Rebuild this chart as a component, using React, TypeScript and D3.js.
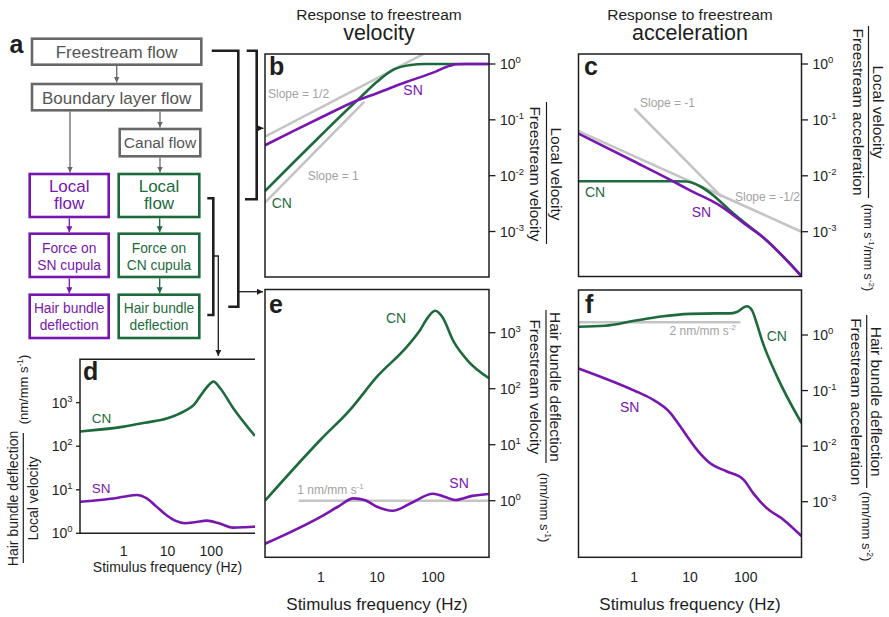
import * as d3 from "d3";
import React from "react";

type Pt = [number, number];

// values: [frequency (Hz), response]
// b: local velocity / freestream velocity
const velSN: Pt[] = [[0.1, 0.035], [0.3, 0.061], [1, 0.11], [4.3, 0.22], [10, 0.3], [34, 0.48], [100, 0.7], [200, 0.93], [265, 0.99], [400, 1], [1000, 1]];
const velCN: Pt[] = [[0.1, 0.0053], [0.3, 0.016], [1, 0.053], [3, 0.155], [5, 0.25], [10, 0.48], [20, 0.8], [40, 0.96], [70, 1], [1000, 1]];
const velSlopeHalf: Pt[] = [[0.1, 0.05], [67, 1.5]];
const velSlopeOne: Pt[] = [[0.1, 0.0033], [5.9, 0.21]];

// c: local velocity / freestream acceleration
const accSN: Pt[] = [[0.1, 0.057], [1, 0.018], [4.7, 0.0082], [10, 0.0055], [35, 0.0029], [100, 0.00134], [206, 0.00079], [1000, 0.00016]];
const accCN: Pt[] = [[0.1, 0.008], [1, 0.008], [5, 0.008], [8.7, 0.0079], [15, 0.0065], [26, 0.0045], [52, 0.0024], [100, 0.0014], [206, 0.00079], [1000, 0.00016]];
const accSlopeMinusOne: Pt[] = [[1, 0.16], [37, 0.0042]];
const accSlopeMinusHalf: Pt[] = [[0.1, 0.063], [1000, 0.001]];

// d: hair bundle deflection / local velocity
const hbLocSN: Pt[] = [[0.1, 5.3], [0.5, 6.2], [1, 6.9], [2, 7.6], [3.3, 6.4], [5.6, 4.1], [9.5, 2.6], [15, 1.95], [25, 1.7], [45, 1.82], [79, 1.95], [150, 1.7], [316, 1.35], [600, 1.38], [1000, 1.42]];
const hbLocCN: Pt[] = [[0.1, 218], [1, 282], [3, 345], [10, 440], [25, 650], [40, 890], [55, 1380], [85, 2450], [112, 3080], [160, 2150], [319, 748], [1000, 172]];

// e: hair bundle deflection / freestream velocity
const hbVelSN: Pt[] = [[0.1, 0.17], [1, 0.52], [2, 0.78], [3.8, 1.1], [6, 1.03], [10, 0.78], [19, 0.66], [40, 0.9], [100, 1.33], [160, 1.18], [250, 1.03], [500, 1.22], [1000, 1.32]];
const hbVelCN: Pt[] = [[0.1, 1.0], [1, 12.5], [3.3, 42], [10, 164], [34, 560], [59, 1120], [83, 1940], [110, 2460], [145, 1940], [234, 690], [407, 325], [1000, 154]];
const hbVelRef: Pt[] = [[0.4, 1], [1000, 1]];

// f: hair bundle deflection / freestream acceleration
const hbAccSN: Pt[] = [[0.1, 0.25], [1, 0.1], [2, 0.072], [4.5, 0.039], [6.8, 0.022], [13.5, 0.0085], [23, 0.0049], [46, 0.0035], [91, 0.0025], [138, 0.0014], [240, 0.00076], [480, 0.00047], [1000, 0.00024]];
const hbAccCN: Pt[] = [[0.1, 1.41], [0.3, 1.47], [1, 1.8], [3, 2.15], [10, 2.4], [30, 2.45], [52, 2.45], [69, 2.6], [105, 3.3], [129, 2.8], [158, 1.6], [195, 0.81], [363, 0.18], [1000, 0.026]];
const hbAccRef: Pt[] = [[0.1, 1.7], [80, 1.7]];

const freqTicks = [1, 10, 100];
const ratioExps = [0, -1, -2, -3];
const gainExps = [3, 2, 1, 0];

const PURPLE = "#7816b0";
const GREEN = "#1d6b3c";
const REF = "#c4c4c4";
const NOTE = "#a2a2a2";
const BOXGRAY = "#686868";
const INK = "#1e1e1e";
const FONT = "'Liberation Sans', Arial, Helvetica, sans-serif";

const Pow = ({ e, size = 9.5 }: { e: number; size?: number }) => (
  <>
    10<tspan dy={-6} fontSize={size}>{e}</tspan>
  </>
);

type Series = { data: Pt[]; color: string };

function Plot(props: {
  id: string;
  xr: [number, number];
  yd: [number, number];
  yr: [number, number];
  top: number;
  bottom: number;
  exps: number[];
  side: "left" | "right";
  lines: Series[];
  xLabelY?: number;
  tickFont: number;
  open?: boolean;
}) {
  const x = d3.scaleLog().domain([0.1, 1000]).range(props.xr);
  const y = d3.scaleLog().domain(props.yd).range(props.yr);
  const line = d3.line<Pt>().x(d => x(d[0])).y(d => y(d[1])).curve(d3.curveMonotoneX);
  const [x0, x1] = props.xr;
  const { top, bottom } = props;
  return (
    <g>
      <clipPath id={props.id}>
        <rect x={x0} y={top} width={x1 - x0} height={bottom - top} />
      </clipPath>
      <g clipPath={`url(#${props.id})`} fill="none" strokeWidth={2.6} strokeLinejoin="round">
        {props.lines.map((s, i) => (
          <path key={i} d={line(s.data) || ""} stroke={s.color} />
        ))}
      </g>
      {props.open ? (
        <path d={`M${x1},${top}H${x0}V${bottom}H${x1}`} fill="none" stroke={INK} strokeWidth={1.5} />
      ) : (
        <rect x={x0} y={top} width={x1 - x0} height={bottom - top} fill="none" stroke={INK} strokeWidth={1.5} />
      )}
      {props.exps.map(e => {
        const ty = y(Math.pow(10, e));
        return props.side === "right" ? (
          <g key={e}>
            <line x1={x1} x2={x1 + 6.5} y1={ty} y2={ty} stroke={INK} strokeWidth={1.3} />
            <text x={x1 + 11} y={ty + 5} fontSize={props.tickFont} fill={INK}><Pow e={e} /></text>
          </g>
        ) : (
          <g key={e}>
            <line x1={x0 - 4} x2={x0} y1={ty} y2={ty} stroke={INK} strokeWidth={1.3} />
            <text x={x0 - 7.5} y={ty + 5} fontSize={props.tickFont} fill={INK} textAnchor="end"><Pow e={e} /></text>
          </g>
        );
      })}
      {props.xLabelY !== undefined &&
        freqTicks.map(f => (
          <text key={f} x={x(f)} y={props.xLabelY} fontSize={props.tickFont} fill={INK} textAnchor="middle">{f}</text>
        ))}
    </g>
  );
}

// rotated fraction label: numerator / denominator with a bar between
function Fraction(props: { cy: number; num: string; den: string; y0: number; y1: number; lineX: number; numX: number; denX: number; size: number; rot: number }) {
  const { cy, size, rot } = props;
  const dy = size * 0.35;
  return (
    <g fill={INK} fontSize={size}>
      <text transform={`translate(${props.numX},${cy}) rotate(${rot})`} y={dy} textAnchor="middle">{props.num}</text>
      <text transform={`translate(${props.denX},${cy}) rotate(${rot})`} y={dy} textAnchor="middle">{props.den}</text>
      <line x1={props.lineX} x2={props.lineX} y1={props.y0} y2={props.y1} stroke={INK} strokeWidth={1.2} />
    </g>
  );
}

function Units(props: { x: number; y: number; pre: string; mid?: string; e1: number; e2?: number; size: number; rot: number }) {
  const { size } = props;
  return (
    <text transform={`translate(${props.x},${props.y}) rotate(${props.rot})`} y={size * 0.35} textAnchor="middle" fontSize={size} fill={INK}>
      {props.pre}
      <tspan dy={-5} fontSize={size * 0.65}>{props.e1}</tspan>
      {props.mid !== undefined && <tspan dy={5}>{props.mid}</tspan>}
      {props.e2 !== undefined && <tspan dy={-5} fontSize={size * 0.65}>{props.e2}</tspan>}
      <tspan dy={5}>)</tspan>
    </text>
  );
}

type Box = { x: number; y: number; w: number; h: number; color: string; lines: string[]; size: number; base: number[] };

const boxes: Box[] = [
  { x: 32, y: 38.7, w: 169.3, h: 26, color: BOXGRAY, lines: ["Freestream flow"], size: 17, base: [58] },
  { x: 32, y: 84, w: 169.3, h: 26.3, color: BOXGRAY, lines: ["Boundary layer flow"], size: 17, base: [103.5] },
  { x: 119.7, y: 129, w: 80.6, h: 27.3, color: BOXGRAY, lines: ["Canal flow"], size: 15.5, base: [148] },
  { x: 29.7, y: 174, w: 79, h: 43, color: PURPLE, lines: ["Local", "flow"], size: 17, base: [191.5, 209] },
  { x: 118.7, y: 174, w: 80.6, h: 43, color: GREEN, lines: ["Local", "flow"], size: 17, base: [191.5, 209] },
  { x: 29.7, y: 233.7, w: 79, h: 43.3, color: PURPLE, lines: ["Force on", "SN cupula"], size: 13.8, base: [252.5, 270] },
  { x: 118.7, y: 233.7, w: 80.6, h: 43.3, color: GREEN, lines: ["Force on", "CN cupula"], size: 13.8, base: [252.5, 270] },
  { x: 29.7, y: 294.7, w: 79, h: 43.3, color: PURPLE, lines: ["Hair bundle", "deflection"], size: 13.8, base: [313, 330] },
  { x: 118.7, y: 294.7, w: 80.6, h: 43.3, color: GREEN, lines: ["Hair bundle", "deflection"], size: 13.8, base: [313, 330] },
];

const arrows: { x1: number; y1: number; x2: number; y2: number; c: string; m: string }[] = [
  { x1: 116.7, y1: 66, x2: 116.7, y2: 82.5, c: BOXGRAY, m: "ag" },
  { x1: 70, y1: 111.5, x2: 70, y2: 172.5, c: BOXGRAY, m: "ag" },
  { x1: 160, y1: 111.5, x2: 160, y2: 127.5, c: BOXGRAY, m: "ag" },
  { x1: 160, y1: 157.5, x2: 160, y2: 172.5, c: BOXGRAY, m: "ag" },
  { x1: 69.3, y1: 218.3, x2: 69.3, y2: 232.3, c: PURPLE, m: "ap" },
  { x1: 69.3, y1: 278.3, x2: 69.3, y2: 293.3, c: PURPLE, m: "ap" },
  { x1: 159.7, y1: 218.3, x2: 159.7, y2: 232.3, c: GREEN, m: "an" },
  { x1: 159.7, y1: 278.3, x2: 159.7, y2: 293.3, c: GREEN, m: "an" },
];

function Flowchart() {
  const marker = (id: string, color: string) => (
    <marker id={id} markerUnits="userSpaceOnUse" markerWidth={7} markerHeight={7} refX={6} refY={3} orient="auto">
      <path d="M0,0L6,3L0,6z" fill={color} />
    </marker>
  );
  return (
    <g>
      <defs>
        {marker("ag", BOXGRAY)}
        {marker("ap", PURPLE)}
        {marker("an", GREEN)}
        {marker("ak", INK)}
      </defs>
      {boxes.map((b, i) => (
        <g key={i}>
          <rect x={b.x} y={b.y} width={b.w} height={b.h} fill="white" stroke={b.color} strokeWidth={2.6} />
          {b.lines.map((t, j) => (
            <text key={j} x={b.x + b.w / 2} y={b.base[j]} textAnchor="middle" fontSize={b.size} fill={b.color === BOXGRAY ? "#555" : b.color}>{t}</text>
          ))}
        </g>
      ))}
      {arrows.map((a, i) => (
        <line key={i} x1={a.x1} y1={a.y1} x2={a.x2} y2={a.y2} stroke={a.c} strokeWidth={1.3} markerEnd={`url(#${a.m})`} />
      ))}
      <g fill="none" stroke={INK} strokeWidth={2.6}>
        <path d="M211.7,50.7H238.3V306.7H228.3" />
        <path d="M246.7,50.7H256.7V199.3H245" />
        <path d="M207.3,198.3H213.3V315H207.3" />
      </g>
      <g stroke={INK} strokeWidth={1.3} fill="none">
        <line x1={238.3} y1={291.7} x2={263} y2={291.7} markerEnd="url(#ak)" />
        <line x1={256.7} y1={128.3} x2={263.5} y2={128.3} markerEnd="url(#ak)" />
        <path d="M213.3,256H218.3V356" markerEnd="url(#ak)" />
      </g>
      <text x={9.5} y={53.3} fontSize={25} fontWeight="bold" fill={INK}>a</text>
    </g>
  );
}

export default function App() {
  const bx: [number, number] = [265, 489];
  const cx: [number, number] = [578.5, 801.5];
  return (
    <svg width={889} height={617} viewBox="0 0 889 617" fontFamily={FONT} style={{ position: "absolute", left: 0, top: 0, display: "block" }}>
      <rect width={889} height={617} fill="white" />
      <Flowchart />

      {/* titles */}
      <g fill={INK} textAnchor="middle">
        <text x={379} y={19.5} fontSize={15.5}>Response to freestream</text>
        <text x={379} y={39.5} fontSize={21.5}>velocity</text>
        <text x={690} y={19.5} fontSize={15.5}>Response to freestream</text>
        <text x={690} y={39.5} fontSize={21.5}>acceleration</text>
      </g>

      {/* b */}
      <Plot id="cb" xr={bx} yd={[1e-3, 1]} yr={[231.5, 64]} top={54} bottom={277} exps={ratioExps} side="right" tickFont={14}
        lines={[{ data: velSlopeHalf, color: REF }, { data: velSlopeOne, color: REF }, { data: velCN, color: GREEN }, { data: velSN, color: PURPLE }]} />
      <g fontSize={12}>
        <text x={268} y={98} fill={NOTE}>Slope = 1/2</text>
        <text x={307.7} y={180} fill={NOTE}>Slope = 1</text>
      </g>
      <text x={403.3} y={95} fontSize={14} fill={PURPLE}>SN</text>
      <text x={271.7} y={207.7} fontSize={14} fill={GREEN}>CN</text>
      <text x={269} y={75} fontSize={25} fontWeight="bold" fill={INK}>b</text>
      <Fraction cy={174} num="Local velocity" den="Freestream velocity" numX={556.5} denX={535.5} lineX={546.5} y0={102} y1={244} size={15.5} rot={90} />

      {/* c */}
      <Plot id="cc" xr={cx} yd={[1e-3, 1]} yr={[231.7, 64]} top={54} bottom={276.5} exps={ratioExps} side="right" tickFont={14}
        lines={[{ data: accSlopeMinusOne, color: REF }, { data: accSlopeMinusHalf, color: REF }, { data: accCN, color: GREEN }, { data: accSN, color: PURPLE }]} />
      <g fontSize={12}>
        <text x={640} y={107.3} fill={NOTE}>Slope = -1</text>
        <text x={735} y={200.7} fill={NOTE}>Slope = -1/2</text>
      </g>
      <text x={585} y={196.7} fontSize={14} fill={GREEN}>CN</text>
      <text x={691.7} y={216.7} fontSize={14} fill={PURPLE}>SN</text>
      <text x={584} y={75} fontSize={25} fontWeight="bold" fill={INK}>c</text>
      <Fraction cy={112} num="Local velocity" den="Freestream acceleration" numX={878.3} denX={858.3} lineX={868.5} y0={26} y1={198} size={15.5} rot={90} />
      <Units x={868} y={247.5} pre="(mm s" e1={-1} mid="/mm s" e2={-2} size={12.5} rot={90} />

      {/* d */}
      <Plot id="cd" xr={[80, 255]} yd={[1, 1000]} yr={[533.3, 402.7]} top={359.3} bottom={533.3} exps={gainExps} side="left" tickFont={14} open xLabelY={555.5}
        lines={[{ data: hbLocCN, color: GREEN }, { data: hbLocSN, color: PURPLE }]} />
      <text x={91.7} y={422.7} fontSize={13.5} fill={GREEN}>CN</text>
      <text x={91.7} y={492.7} fontSize={13.5} fill={PURPLE}>SN</text>
      <text x={83} y={380} fontSize={25} fontWeight="bold" fill={INK}>d</text>
      <text x={167.5} y={572} fontSize={14} fill={INK} textAnchor="middle">Stimulus frequency (Hz)</text>
      <Fraction cy={498.5} num="Hair bundle deflection" den="Local velocity" numX={13.3} denX={33.3} lineX={23.3} y0={433} y1={563} size={14} rot={-90} />
      <Units x={23.3} y={389.5} pre="(nm/mm s" e1={-1} size={13} rot={-90} />

      {/* e */}
      <Plot id="ce" xr={bx} yd={[1, 1000]} yr={[500.7, 332.7]} top={289.5} bottom={557.3} exps={gainExps} side="right" tickFont={14} xLabelY={582}
        lines={[{ data: hbVelRef, color: REF }, { data: hbVelCN, color: GREEN }, { data: hbVelSN, color: PURPLE }]} />
      <text x={297.3} y={494} fontSize={12} fill={NOTE}>1 nm/mm s<tspan dy={-5} fontSize={8}>-1</tspan></text>
      <text x={386} y={322.7} fontSize={14} fill={GREEN}>CN</text>
      <text x={449.3} y={488.3} fontSize={14} fill={PURPLE}>SN</text>
      <text x={269} y={313.3} fontSize={25} fontWeight="bold" fill={INK}>e</text>
      <text x={377} y={610} fontSize={17} fill={INK} textAnchor="middle">Stimulus frequency (Hz)</text>
      <Fraction cy={387} num="Hair bundle deflection" den="Freestream velocity" numX={555.5} denX={535.5} lineX={546} y0={310} y1={463} size={15.5} rot={90} />
      <Units x={545} y={507.5} pre="(nm/mm s" e1={-1} size={13} rot={90} />

      {/* f */}
      <Plot id="cf" xr={cx} yd={[1e-3, 1]} yr={[501.7, 335]} top={290} bottom={557.3} exps={ratioExps} side="right" tickFont={14} xLabelY={582}
        lines={[{ data: hbAccRef, color: REF }, { data: hbAccCN, color: GREEN }, { data: hbAccSN, color: PURPLE }]} />
      <text x={736} y={335} fontSize={12} fill={NOTE} textAnchor="end">2 nm/mm s<tspan dy={-5} fontSize={8}>-2</tspan></text>
      <text x={766.7} y={341} fontSize={14} fill={GREEN}>CN</text>
      <text x={620} y={412.3} fontSize={14} fill={PURPLE}>SN</text>
      <text x={585} y={312.7} fontSize={25} fontWeight="bold" fill={INK}>f</text>
      <text x={690} y={610} fontSize={17} fill={INK} textAnchor="middle">Stimulus frequency (Hz)</text>
      <Fraction cy={401.7} num="Hair bundle deflection" den="Freestream acceleration" numX={876.7} denX={856.7} lineX={866.7} y0={315} y1={488} size={15.5} rot={90} />
      <Units x={867} y={526.5} pre="(nm/mm s" e1={-2} size={13} rot={90} />
    </svg>
  );
}
